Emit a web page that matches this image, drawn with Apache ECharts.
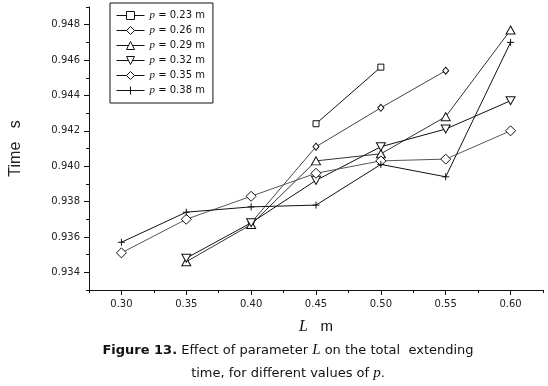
<!DOCTYPE html>
<html lang="en">
<head>
  <meta charset="utf-8">
  <script src="https://cdn.jsdelivr.net/npm/echarts@6.0.0/dist/echarts.min.js"></script>
  <style>
    html, body { margin: 0; padding: 0; background: #fff; }
  </style>
</head>
<body>
  <div id="chart" style="width: 548px; height: 386px;"></div>

  <script type="text/javascript">

    // L (m) values on the x axis
    var lengths = [0.30, 0.35, 0.40, 0.45, 0.50, 0.55, 0.60];

    // extending time (s) for each p, null where no point was measured
    var p023 = [null, null, null, 0.9424, 0.9456, null, null];
    var p026 = [null, null, 0.9368, 0.9411, 0.9433, 0.9454, null];
    var p029 = [null, 0.9346, 0.9367, 0.9403, 0.9407, 0.9428, 0.9477];
    var p032 = [null, 0.9348, 0.9368, 0.9392, 0.9411, 0.9421, 0.9437];
    var p035 = [0.9351, 0.9370, 0.9383, 0.9396, 0.9403, 0.9404, 0.9420];
    var p038 = [0.9357, 0.9374, 0.9377, 0.9378, 0.9401, 0.9394, 0.9470];

    var seriesNames = ['0.23', '0.26', '0.29', '0.32', '0.35', '0.38'];

    // tick labels
    var xMajorTicks = [0.30, 0.35, 0.40, 0.45, 0.50, 0.55, 0.60];
    var xMinorTicks = [0.275, 0.325, 0.375, 0.425, 0.475, 0.525, 0.575, 0.625];
    var yMajorTicks = [0.934, 0.936, 0.938, 0.940, 0.942, 0.944, 0.946, 0.948];
    var yMinorTicks = [0.933, 0.935, 0.937, 0.939, 0.941, 0.943, 0.945, 0.947, 0.949];

    var labelFont = 'DejaVu Sans';

    function toPoints(values) {
        var pts = [];
        for (var i = 0; i < lengths.length; i++) {
            if (values[i] !== null) pts.push([lengths[i], values[i]]);
        }
        return pts;
    }

    var symbols = [
        { symbol: 'rect', size: 6 },
        { symbol: 'diamond', size: [6, 7] },
        { symbol: 'triangle', size: [9, 8] },
        { symbol: 'path://M0,0L10,0L5,9Z', size: [9, 8] },
        { symbol: 'diamond', size: [10, 10] },
        { symbol: 'path://M0,5L10,5M5,0L5,10', size: 7 }
    ];
    var lineColors = ['#111', '#444', '#333', '#111', '#555', '#111'];

    var allValues = [p023, p026, p029, p032, p035, p038];

    var series = [];
    for (var k = 0; k < allValues.length; k++) {
        series.push({
            name: seriesNames[k],
            type: 'line',
            xAxisIndex: 0,
            yAxisIndex: 0,
            data: toPoints(allValues[k]),
            symbol: symbols[k].symbol,
            symbolSize: symbols[k].size,
            showAllSymbol: true,
            lineStyle: { color: lineColors[k], width: 1 },
            itemStyle: { color: '#fff', borderColor: '#111', borderWidth: 1 },
            emphasis: { disabled: true },
            z: 3
        });
    }

    var chart = echarts.init(document.getElementById('chart'));

    var option = {
        animation: false,
        title: {
            text: '{b|Figure 13.} Effect of parameter {i|L} on the total  extending\ntime, for different values of {i|p}.',
            left: 283,
            top: 334,
            textAlign: 'center',
            textStyle: {
                fontFamily: 'DejaVu Sans',
                fontSize: 13,
                fontWeight: 'normal',
                color: '#111',
                lineHeight: 23,
                rich: {
                    b: { fontFamily: 'DejaVu Sans', fontWeight: 'bold', fontSize: 13, color: '#111', lineHeight: 23 },
                    i: { fontFamily: 'Liberation Serif', fontStyle: 'italic', fontSize: 15, color: '#111', lineHeight: 23 }
                }
            }
        },
        legend: {
            orient: 'vertical',
            left: 110,
            top: 3,
            padding: [7, 8, 7, 6],
            itemWidth: 28,
            itemHeight: 10,
            itemGap: 4,
            borderColor: '#111',
            borderWidth: 1,
            data: seriesNames,
            itemStyle: { color: '#fff', borderColor: '#111', borderWidth: 1 },
            lineStyle: { color: '#111', width: 1 },
            formatter: function (name) {
                return '{i|p} = ' + name + ' m';
            },
            textStyle: {
                fontFamily: labelFont,
                fontSize: 10,
                lineHeight: 11,
                color: '#111',
                rich: {
                    i: { fontFamily: 'Liberation Serif', fontStyle: 'italic', fontSize: 11, lineHeight: 11, color: '#111' }
                }
            }
        },
        grid: {
            left: 84,
            right: 5,
            top: 7,
            bottom: 96
        },
        xAxis: [{
            type: 'value',
            min: 0.275,
            max: 0.625,
            position: 'bottom',
            name: '{i|L}   m',
            nameLocation: 'middle',
            nameGap: 29,
            nameTextStyle: {
                fontFamily: 'Liberation Sans',
                fontSize: 15,
                color: '#111',
                rich: {
                    i: { fontFamily: 'Liberation Serif', fontStyle: 'italic', fontSize: 16, color: '#111' }
                }
            },
            splitLine: { show: false },
            axisLine: { lineStyle: { color: '#111', width: 1 } },
            axisTick: { length: 5, customValues: xMajorTicks, lineStyle: { color: '#111' } },
            axisLabel: {
                customValues: xMajorTicks,
                margin: 9,
                fontFamily: labelFont,
                fontSize: 10,
                color: '#222',
                formatter: function (v) { return v.toFixed(2); }
            }
        }, {
            type: 'value',
            min: 0.275,
            max: 0.625,
            position: 'bottom',
            splitLine: { show: false },
            axisLine: { show: false },
            axisTick: { length: 3, customValues: xMinorTicks, lineStyle: { color: '#111' } },
            axisLabel: { show: false }
        }],
        yAxis: [{
            type: 'value',
            min: 0.933,
            max: 0.949,
            position: 'left',
            name: 'Time   s',
            nameLocation: 'middle',
            nameGap: 65,
            nameTextStyle: {
                fontFamily: 'Liberation Sans',
                fontSize: 16,
                color: '#222'
            },
            splitLine: { show: false },
            axisLine: { show: true, lineStyle: { color: '#111', width: 1 } },
            axisTick: { show: true, length: 5, customValues: yMajorTicks, lineStyle: { color: '#111' } },
            axisLabel: {
                customValues: yMajorTicks,
                margin: 9,
                fontFamily: labelFont,
                fontSize: 10,
                color: '#222',
                formatter: function (v) { return v.toFixed(3); }
            }
        }, {
            type: 'value',
            min: 0.933,
            max: 0.949,
            position: 'left',
            offset: 0,
            splitLine: { show: false },
            axisLine: { show: false },
            axisTick: { show: true, length: 3, customValues: yMinorTicks, lineStyle: { color: '#111' } },
            axisLabel: { show: false }
        }],
        series: series
    };

    chart.setOption(option);
  </script>
</body>
</html>
